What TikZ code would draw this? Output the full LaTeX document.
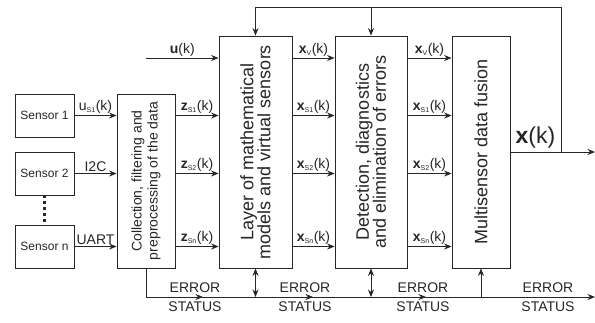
\documentclass[tikz,border=0pt]{standalone}
\usepackage{fontspec}
\setmainfont{Liberation Sans}
\usetikzlibrary{arrows.meta,positioning}
\newcommand{\sub}[1]{\textsubscript{\fontsize{7}{8}\selectfont #1}}

\begin{document}
\begin{tikzpicture}[x=1pt,y=-1pt,line width=0.8pt,color=black!85,
    >={Stealth[length=7.5pt,width=6pt]},
    sensorbox/.style={draw,minimum width=59pt,minimum height=43pt,inner sep=0pt,
      font=\fontsize{12}{14}\selectfont},
    blockbox/.style={draw,inner sep=0pt},
    lbl/.style={font=\fontsize{14}{15}\selectfont,inner sep=1.5pt},
    vtext/.style={rotate=90,align=center,font=\fontsize{18}{17}\selectfont}]
    \useasboundingbox (0,0) rectangle (595,322);

    % sensors
    \node[sensorbox] (s1) at (44.5,115.5) {Sensor 1};
    \node[sensorbox] (s2) at (44.5,173.5) {Sensor 2};
    \node[sensorbox] (sn) at (44.5,246.5) {Sensor n};
    \draw[line width=3pt,dash pattern=on 3pt off 3pt] (s2.south) -- (sn.north);

    % processing blocks
    \node[blockbox,minimum width=58pt,minimum height=174pt,
      label={[vtext,font=\fontsize{14}{16}\selectfont]center:Collection, filtering and\\preprocessing of the data}]
      (coll) at (146,181) {};
    \node[blockbox,minimum width=73pt,minimum height=232pt,
      label={[vtext]center:Layer of mathematical\\models and virtual sensors}]
      (layer) at (255.5,152) {};
    \node[blockbox,minimum width=72pt,minimum height=232pt,
      label={[vtext]center:Detection, diagnostics\\and elimination of errors}]
      (detect) at (371,152) {};
    \node[blockbox,minimum width=58pt,minimum height=232pt,
      label={[vtext]center:Multisensor data fusion}]
      (fusion) at (481,152) {};

    % sensor links
    \draw[->] (s1.east) -- (s1 -| coll.west) node[lbl,midway,above] {u\sub{S1}(k)};
    \draw[->] (s2.east) -- (s2 -| coll.west) node[lbl,midway,above] {I2C};
    \draw[->] (sn.east) -- (sn -| coll.west) node[lbl,midway,above] {UART};

    % collection -> layer
    \coordinate (uin) at (146,58);
    \draw[->] (uin) -- (uin -| layer.west) node[lbl,midway,above] {\textbf{u}(k)};
    \draw[->] (coll.east |- s1) -- (layer.west |- s1) node[lbl,midway,above] {\textbf{z}\sub{S1}(k)};
    \draw[->] (coll.east |- s2) -- (layer.west |- s2) node[lbl,midway,above] {\textbf{z}\sub{S2}(k)};
    \draw[->] (coll.east |- sn) -- (layer.west |- sn) node[lbl,midway,above] {\textbf{z}\sub{Sn}(k)};

    % layer -> detection
    \draw[->] (layer.east |- uin) -- (detect.west |- uin) node[lbl,midway,above] {\textbf{x}\sub{V}(k)};
    \draw[->] (layer.east |- s1) -- (detect.west |- s1) node[lbl,midway,above] {\textbf{x}\sub{S1}(k)};
    \draw[->] (layer.east |- s2) -- (detect.west |- s2) node[lbl,midway,above] {\textbf{x}\sub{S2}(k)};
    \draw[->] (layer.east |- sn) -- (detect.west |- sn) node[lbl,midway,above] {\textbf{x}\sub{Sn}(k)};

    % detection -> fusion
    \draw[->] (detect.east |- uin) -- (fusion.west |- uin) node[lbl,midway,above] {\textbf{x}\sub{V}(k)};
    \draw[->] (detect.east |- s1) -- (fusion.west |- s1) node[lbl,midway,above] {\textbf{x}\sub{S1}(k)};
    \draw[->] (detect.east |- s2) -- (fusion.west |- s2) node[lbl,midway,above] {\textbf{x}\sub{S2}(k)};
    \draw[->] (detect.east |- sn) -- (fusion.west |- sn) node[lbl,midway,above] {\textbf{x}\sub{Sn}(k)};

    % output and feedback
    \coordinate (xout) at (595,152);
    \coordinate (fb) at (561,152);
    \coordinate (top) at (561,7);
    \draw[->] (fusion.east) -- (xout);
    \node[font=\fontsize{23}{25}\selectfont,above,inner sep=3pt] (xk) at (535.5,152) {\textbf{x}(k)};
    \draw[->] (fb) -- (top) -- (top -| layer.north) -- (layer.north);
    \draw[->] (top -| detect.north) -- (detect.north);

    % error / status bus
    \coordinate (busL) at (146,297);
    \coordinate (busR) at (595,297);
    \draw[->] (coll.south) -- (busL) -- (busR);
    \foreach \xa in {203,313,426} \draw[->] (busL) -- (\xa,297);
    \foreach \xa [count=\i] in {195,305,423,548} {
      \node[lbl,above=2pt] (err\i) at (\xa,297) {ERROR};
      \node[lbl,below=3pt] (sts\i) at (\xa,297) {STATUS};
    }
    \draw[<->] (layer.south) -- (layer.south |- busL);
    \draw[<->] (detect.south) -- (detect.south |- busL);
    \draw[->] (fusion.south |- busL) -- (fusion.south);
\end{tikzpicture}
\end{document}
